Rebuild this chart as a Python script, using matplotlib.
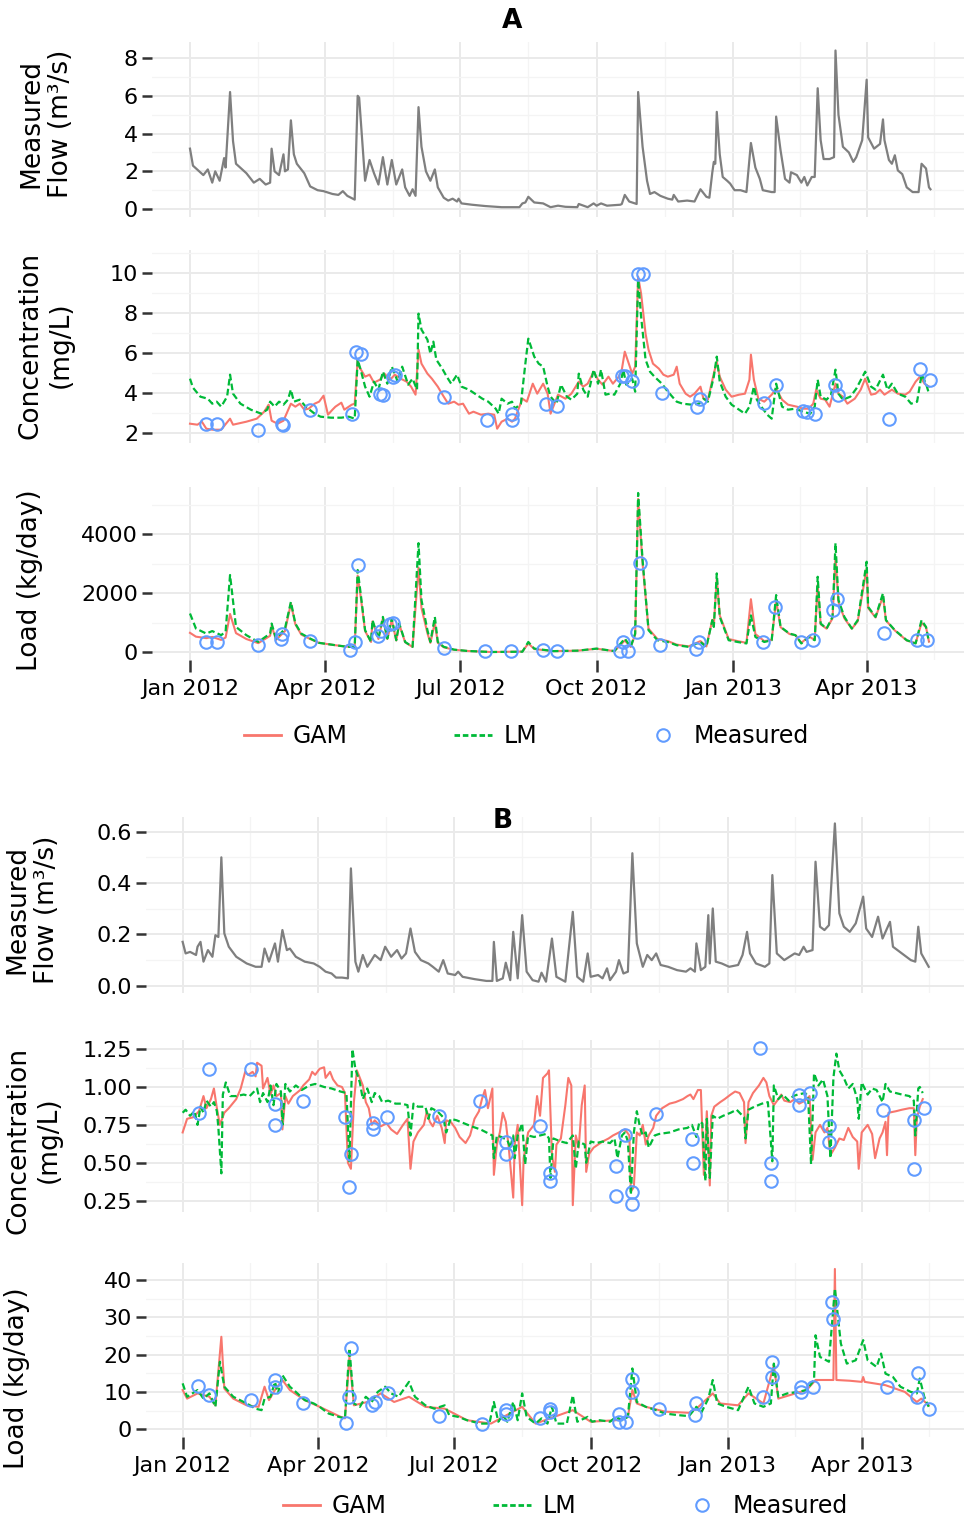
import numpy as np
import matplotlib
matplotlib.use('Agg')
import matplotlib.pyplot as plt
import matplotlib.dates as mdates
from matplotlib.lines import Line2D

# day offsets are counted from 1 Jan 2012
START = np.datetime64('2012-01-01')

# ---------------- site A ----------------
FLOW_A_DAYS = [0, 2, 9, 12, 15, 17, 20, 23, 24, 27, 29, 31, 38, 43, 47, 51, 54, 55, 57, 60,
               63, 64, 66, 68, 70, 72, 77, 81, 86, 90, 96, 100, 103, 106, 111, 113, 114, 118,
               121, 124, 127, 130, 133, 136, 139, 143, 145, 148, 150, 152, 154, 156, 159, 162,
               165, 167, 171, 174, 177, 180, 181, 183, 190, 199, 210, 222, 224, 226, 228, 232,
               238, 243, 248, 253, 261, 262, 268, 272, 274, 277, 281, 290, 291, 293, 296, 301,
               302, 305, 308, 310, 313, 317, 322, 325, 326, 329, 335, 340, 344, 348, 350, 352,
               353, 354, 355, 357, 359, 362, 364, 367, 371, 375, 378, 381, 384, 386, 392, 394,
               395, 398, 401, 404, 405, 409, 412, 414, 416, 419, 421, 423, 425, 427, 431, 434,
               435, 437, 440, 444, 447, 449, 453, 456, 457, 461, 465, 467, 468, 471, 473, 475,
               477, 480, 483, 487, 491, 493, 496, 498, 499]
FLOW_A = [3.2, 2.3, 1.8, 2.1, 1.4, 2.0, 1.5, 2.7, 2.2, 6.2, 3.6, 2.4, 1.9, 1.4, 1.6, 1.3, 1.4, 3.2, 2.0, 1.8,
          2.9, 2.0, 2.1, 4.7, 2.9, 2.4, 1.9, 1.2, 1.0, 0.95, 0.8, 0.75, 0.95, 0.7, 0.5, 6.0, 5.9, 1.5,
          2.6, 1.9, 1.3, 2.75, 1.3, 2.6, 1.3, 2.1, 1.15, 0.7, 1.05, 0.7, 5.4, 3.3, 2.0, 1.5,
          2.1, 1.15, 0.6, 0.45, 0.55, 0.4, 0.55, 0.3, 0.23, 0.16, 0.1, 0.1, 0.3, 0.35, 0.65, 0.35,
          0.3, 0.1, 0.18, 0.12, 0.1, 0.27, 0.1, 0.3, 0.18, 0.3, 0.18, 0.23, 0.27, 0.75, 0.4, 0.27,
          6.2, 3.3, 1.5, 0.8, 0.9, 0.7, 0.55, 0.5, 0.75, 0.4, 0.45, 0.4, 1.05, 0.65, 0.6, 1.95,
          2.5, 2.4, 5.15, 2.9, 1.7, 1.5, 1.35, 1.0, 1.0, 0.9, 3.5, 2.2, 1.6, 1.0, 0.9, 0.9,
          4.9, 3.1, 1.6, 1.4, 1.95, 1.8, 1.4, 1.7, 1.25, 1.7, 1.7, 6.4, 3.65, 2.65, 2.65, 2.75,
          8.4, 5.0, 3.3, 3.0, 2.5, 2.75, 3.65, 6.85, 3.8, 3.2, 3.45, 4.75, 3.65, 2.6, 2.4, 2.85,
          2.05, 1.85, 1.15, 0.9, 0.9, 2.4, 2.15, 1.15, 1.05]

CONC_A_GAM_DAYS = [0, 5, 8, 11, 15, 21, 27, 29, 38, 45, 50, 53, 55, 59, 63, 68, 71, 74, 77, 80,
                   84, 87, 90, 93, 96, 98, 102, 104, 109, 111, 113, 114, 118, 121, 124, 128, 131,
                   135, 138, 142, 146, 149, 152, 154, 156, 160, 163, 167, 171, 174, 178, 181, 184,
                   188, 191, 196, 201, 205, 207, 210, 214, 217, 219, 224, 227, 231, 234, 238, 241,
                   243, 248, 253, 257, 262, 265, 268, 272, 275, 278, 282, 285, 289, 291, 293, 296,
                   298, 300, 302, 304, 307, 309, 312, 316, 319, 322, 326, 328, 330, 334, 337, 340,
                   344, 346, 349, 353, 355, 357, 361, 365, 370, 374, 377, 378, 380, 383, 387, 392,
                   395, 399, 403, 409, 413, 417, 420, 422, 425, 428, 431, 435, 437, 440, 443, 448,
                   452, 455, 459, 462, 465, 468, 473, 477, 482, 485, 489, 492, 495, 498]
CONC_A_GAM = [2.45, 2.4, 2.55, 2.2, 2.15, 2.15, 2.7, 2.4, 2.55, 2.7, 3.05, 3.4, 2.6, 2.45, 2.6, 3.45, 3.3, 3.45, 3.15, 3.2,
              3.45, 3.55, 3.85, 2.9, 3.15, 3.3, 3.5, 3.15, 3.4, 3.45, 5.65, 5.3, 4.8, 4.9, 4.5, 4.65, 4.95,
              4.65, 4.9, 4.7, 4.55, 4.3, 3.9, 6.15, 5.45, 4.95, 4.7, 4.3, 3.8, 3.45, 3.55, 3.4, 3.45,
              2.95, 3.05, 2.9, 2.95, 2.9, 2.2, 2.55, 2.7, 2.55, 2.7, 3.7, 3.55, 4.45, 3.95, 4.45, 3.95,
              2.95, 3.9, 3.7, 3.95, 4.55, 4.3, 4.45, 5.05, 4.65, 4.4, 4.8, 4.45, 4.8, 5.15, 6.05, 5.4,
              4.95, 5.3, 9.8, 8.95, 6.95, 6.15, 5.45, 5.2, 4.9, 4.8, 4.9, 5.3, 4.45, 3.95, 3.8, 3.95,
              4.3, 3.7, 3.65, 4.95, 5.55, 4.8, 4.15, 3.8, 3.9, 3.95, 4.65, 5.9, 4.65, 3.7, 3.55, 3.9,
              4.2, 3.65, 3.4, 3.3, 3.2, 3.2, 3.45, 4.15, 3.7, 3.65, 3.3, 4.45, 3.95, 3.8, 3.45, 3.7,
              4.15, 4.7, 3.9, 3.95, 4.15, 3.9, 4.15, 3.95, 3.9, 4.05, 4.55, 4.8, 4.45, 4.3]

CONC_A_LM_DAYS = [0, 2, 7, 12, 15, 18, 21, 25, 27, 29, 34, 41, 48, 52, 54, 57, 60, 63, 66, 68,
                  70, 74, 78, 84, 88, 95, 102, 107, 111, 113, 115, 118, 121, 124, 127, 130, 133,
                  136, 140, 143, 147, 150, 153, 154, 156, 160, 162, 164, 166, 170, 173, 176, 180,
                  183, 188, 192, 197, 201, 206, 208, 210, 214, 217, 219, 223, 226, 228, 232, 235,
                  238, 241, 243, 247, 250, 254, 257, 261, 262, 265, 268, 272, 275, 277, 280, 283,
                  286, 290, 292, 294, 298, 300, 302, 304, 307, 310, 313, 318, 321, 325, 328, 332,
                  338, 343, 346, 349, 353, 355, 357, 361, 365, 370, 374, 377, 380, 382, 385, 389,
                  392, 395, 399, 403, 408, 413, 418, 421, 423, 425, 429, 432, 435, 437, 440, 445,
                  449, 455, 459, 462, 467, 470, 473, 477, 482, 486, 490, 493, 496, 498]
CONC_A_LM = [4.7, 4.25, 3.8, 3.7, 3.45, 3.55, 3.3, 3.8, 4.9, 3.95, 3.45, 3.15, 2.95, 3.15, 3.55, 3.3, 3.55, 3.4, 3.65, 4.15,
             3.55, 3.65, 3.3, 2.95, 2.8, 2.75, 2.75, 2.8, 2.7, 5.65, 5.15, 4.3, 3.8, 4.55, 4.15, 5.05, 4.45,
             5.3, 4.55, 5.3, 4.4, 4.7, 4.15, 7.95, 7.15, 6.65, 5.95, 6.55, 5.65, 5.2, 4.8, 4.45, 4.9,
             4.3, 4.15, 3.95, 3.7, 3.55, 3.2, 2.95, 3.7, 3.45, 3.55, 3.2, 3.45, 5.45, 6.7, 5.8, 5.45,
             5.3, 4.3, 3.8, 3.45, 4.4, 3.8, 3.65, 3.95, 4.95, 4.15, 3.8, 5.15, 4.45, 5.15, 3.9, 3.95,
             3.9, 4.45, 5.15, 4.4, 4.7, 4.05, 9.65, 7.8, 5.65, 5.05, 4.8, 4.45, 4.15, 3.8, 3.55, 3.45,
             3.4, 3.45, 3.7, 3.55, 4.8, 5.8, 4.55, 3.8, 3.4, 3.15, 2.95, 3.3, 4.3, 3.65, 3.3, 2.9,
             2.7, 4.45, 3.3, 3.15, 3.2, 3.05, 2.95, 3.3, 4.65, 3.8, 3.65, 3.9, 5.15, 3.95, 3.65, 3.8,
             4.2, 5.05, 4.3, 4.15, 4.9, 4.15, 4.45, 3.95, 3.8, 3.45, 3.55, 4.9, 4.45, 3.95]

CONC_A_MEAS_DAYS = [11, 18, 46, 62, 63, 81, 109, 112, 115, 128, 130, 137, 138, 171, 200, 217, 217,
                    240, 247, 291, 293, 298, 302, 305, 318, 342, 344, 387, 395, 413, 416, 421, 435,
                    437, 471, 492, 499]
CONC_A_MEAS = [2.45, 2.45, 2.15, 2.45, 2.4, 3.15, 2.95, 6.05, 5.95, 3.95, 3.9, 4.8, 4.9, 3.8, 2.65, 2.95, 2.65,
               3.45, 3.35, 4.85, 4.85, 4.6, 9.95, 9.95, 4.0, 3.3, 3.7, 3.5, 4.4, 3.1, 3.05, 2.95, 4.4,
               3.9, 2.7, 5.2, 4.65]

LOAD_A_DAYS = [0, 4, 11, 15, 21, 24, 27, 31, 38, 46, 54, 55, 58, 62, 64, 68, 71, 75, 81, 87,
               98, 106, 111, 113, 115, 118, 122, 123, 127, 130, 133, 136, 139, 141, 145, 150, 154,
               156, 160, 162, 165, 167, 171, 178, 187, 203, 224, 228, 232, 245, 261, 274, 286,
               293, 297, 300, 302, 305, 309, 315, 322, 328, 336, 344, 348, 352, 353, 355, 357,
               363, 369, 375, 378, 381, 387, 392, 395, 398, 404, 408, 412, 417, 421, 423, 425,
               429, 433, 435, 437, 441, 446, 450, 456, 457, 462, 467, 469, 475, 483, 489, 493,
               496, 498]
LOAD_A_LM = [1315, 805, 635, 720, 580, 700, 2620, 860, 580, 350, 635, 975, 465, 690, 805, 1710, 975, 635, 465, 320,
             240, 185, 185, 2790, 2000, 750, 350, 1090, 465, 1200, 465, 1145, 410, 975, 350, 185, 3700,
             1770, 750, 350, 1200, 350, 185, 90, 45, 10, 20, 350, 125, 40, 55, 125, 40,
             465, 185, 635, 5400, 3130, 750, 410, 350, 240, 185, 350, 185, 1090, 860, 2675, 1200,
             410, 350, 300, 1250, 520, 350, 410, 1940, 860, 635, 580, 300, 520, 410, 2560, 975,
             805, 1200, 3700, 1770, 1200, 805, 1090, 3070, 1540, 1200, 2000, 1090, 750, 410, 300, 1090,
             860, 350]
LOAD_A_GAM = [660, 530, 480, 520, 420, 500, 1300, 650, 450, 310, 560, 900, 420, 620, 720, 1650, 950, 600, 450, 320,
              240, 190, 190, 2600, 1900, 720, 350, 1050, 450, 1150, 450, 1100, 400, 950, 340, 180, 2870,
              1500, 650, 320, 1000, 320, 170, 85, 45, 10, 25, 300, 110, 40, 55, 120, 40,
              400, 180, 600, 5200, 3000, 800, 450, 380, 260, 200, 380, 200, 1100, 900, 2500, 1250,
              450, 380, 320, 1800, 620, 380, 420, 1750, 850, 620, 580, 320, 540, 420, 2290, 950,
              800, 1150, 3230, 1700, 1150, 800, 1050, 2850, 1500, 1180, 1900, 1080, 740, 400, 310, 1000,
              850, 360]

LOAD_A_MEAS_DAYS = [11, 18, 46, 61, 62, 81, 108, 111, 113, 127, 129, 135, 137, 171, 199, 216, 238,
                    247, 290, 292, 295, 301, 303, 317, 341, 343, 386, 394, 412, 420, 433, 436, 468,
                    490, 497]
LOAD_A_MEAS = [350, 340, 240, 465, 635, 375, 90, 350, 2960, 555, 730, 950, 1000, 160, 40, 40, 70,
               50, 60, 350, 60, 690, 3010, 240, 120, 350, 350, 1540, 350, 410, 1430, 1790, 660,
               410, 410]

# ---------------- site B ----------------
FLOW_B_DAYS = [0, 2, 5, 9, 10, 12, 14, 17, 20, 22, 24, 26, 28, 31, 36, 43, 49, 53, 55, 58,
               62, 64, 67, 70, 72, 76, 82, 88, 92, 96, 100, 103, 107, 111, 113, 116, 118, 121,
               124, 129, 133, 136, 140, 144, 147, 150, 153, 156, 160, 165, 168, 172, 175, 178,
               183, 185, 188, 196, 204, 208, 209, 211, 215, 217, 220, 222, 225, 228, 231, 235,
               239, 241, 244, 248, 251, 257, 262, 265, 269, 272, 274, 279, 282, 285, 287, 291,
               293, 296, 299, 302, 305, 309, 312, 315, 318, 321, 326, 332, 338, 341, 344, 345,
               348, 351, 353, 354, 356, 358, 362, 367, 373, 376, 379, 381, 385, 391, 394, 396,
               399, 404, 411, 414, 417, 419, 423, 425, 428, 431, 434, 438, 441, 444, 448, 452,
               457, 459, 463, 467, 470, 475, 477, 483, 489, 492, 494, 496, 501]
FLOW_B = [0.171, 0.126, 0.132, 0.12, 0.152, 0.171, 0.094, 0.139, 0.113, 0.197, 0.19, 0.50, 0.204, 0.152, 0.113, 0.087, 0.074, 0.074, 0.145, 0.094,
          0.165, 0.094, 0.217, 0.139, 0.145, 0.113, 0.094, 0.087, 0.074, 0.055, 0.048, 0.032, 0.032, 0.029, 0.457, 0.094, 0.055, 0.12,
          0.074, 0.12, 0.10, 0.152, 0.113, 0.139, 0.106, 0.126, 0.223, 0.132, 0.10, 0.087, 0.074, 0.055, 0.10, 0.048,
          0.042, 0.055, 0.035, 0.026, 0.019, 0.019, 0.171, 0.019, 0.029, 0.09, 0.022, 0.21, 0.029, 0.275, 0.055, 0.022,
          0.016, 0.051, 0.016, 0.184, 0.035, 0.016, 0.288, 0.035, 0.016, 0.126, 0.035, 0.042, 0.029, 0.068, 0.022, 0.055,
          0.10, 0.048, 0.055, 0.516, 0.165, 0.074, 0.12, 0.10, 0.126, 0.081, 0.074, 0.061, 0.055, 0.068, 0.055, 0.165,
          0.061, 0.074, 0.275, 0.087, 0.301, 0.094, 0.087, 0.074, 0.081, 0.12, 0.21, 0.126, 0.087, 0.074, 0.087, 0.431,
          0.126, 0.10, 0.126, 0.12, 0.152, 0.132, 0.139, 0.483, 0.23, 0.217, 0.236, 0.632, 0.282, 0.23, 0.21, 0.243,
          0.347, 0.223, 0.19, 0.269, 0.184, 0.249, 0.152, 0.126, 0.10, 0.094, 0.23, 0.126, 0.074]

CONC_B_GAM_DAYS = [0, 3, 7, 11, 14, 16, 19, 21, 23, 25, 28, 31, 36, 39, 42, 44, 47, 49, 50, 53,
                   54, 57, 59, 61, 63, 66, 67, 69, 71, 74, 79, 81, 85, 87, 89, 92, 95, 96, 99, 101,
                   104, 107, 109, 111, 113, 115, 117, 119, 121, 123, 125, 127, 129, 133, 137, 140,
                   144, 148, 151, 153, 155, 158, 162, 164, 166, 168, 171, 174, 176, 177, 180, 183,
                   186, 190, 193, 196, 199, 201, 203, 205, 208, 209, 211, 213, 215, 217, 219, 222,
                   223, 225, 228, 229, 232, 236, 238, 240, 242, 245, 246, 248, 250, 251, 254, 257,
                   259, 261, 262, 264, 266, 268, 270, 271, 273, 276, 279, 282, 286, 289, 293, 297,
                   300, 301, 303, 305, 307, 309, 311, 313, 316, 318, 322, 327, 331, 336, 339, 341,
                   343, 345, 346, 348, 350, 352, 354, 355, 357, 361, 364, 368, 371, 374, 377, 378,
                   380, 383, 387, 390, 392, 394, 397, 400, 402, 404, 408, 411, 414, 418, 421, 423,
                   425, 428, 431, 433, 435, 438, 441, 444, 447, 450, 453, 454, 456, 460, 463, 465,
                   468, 470, 472, 473, 474, 479, 483, 488, 491, 492, 493, 495, 497]
CONC_B_GAM = [0.70, 0.79, 0.80, 0.84, 0.94, 0.86, 0.92, 0.99, 0.86, 0.75, 0.83, 0.86, 0.92, 0.99, 1.10, 1.08, 1.10, 1.07, 1.16, 1.14,
              0.99, 1.06, 0.95, 1.01, 0.94, 0.96, 0.72, 0.94, 0.89, 0.94, 0.98, 1.01, 1.05, 1.10, 1.08, 1.12, 1.13, 1.06, 1.10, 1.05,
              1.01, 1.00, 0.96, 0.50, 0.46, 0.90, 1.11, 1.06, 1.01, 0.90, 0.86, 0.75, 0.78, 0.74, 0.76, 0.72,
              0.69, 0.75, 0.79, 0.46, 0.64, 0.70, 0.75, 0.84, 0.77, 0.74, 0.81, 0.73, 0.63, 0.78, 0.77, 0.73,
              0.67, 0.63, 0.68, 0.79, 0.84, 0.92, 0.98, 0.86, 0.99, 0.42, 0.62, 0.70, 0.83, 0.77, 0.60, 0.27,
              0.62, 0.75, 0.22, 0.53, 0.70, 0.75, 0.94, 0.81, 1.06, 1.09, 1.11, 0.55, 0.44, 0.62, 0.66, 0.88,
              1.06, 1.01, 0.22, 0.68, 0.60, 0.88, 1.01, 0.44, 0.56, 0.60, 0.62, 0.64, 0.66, 0.68, 0.70, 0.72,
              0.68, 0.31, 0.34, 0.70, 0.68, 0.75, 0.62, 0.68, 0.73, 0.81, 0.86, 0.89, 0.90, 0.92, 0.94, 0.95,
              0.92, 0.96, 0.98, 0.98, 0.42, 0.84, 0.35, 0.81, 0.87, 0.90, 0.92, 0.95, 0.97, 0.96, 0.90, 0.63,
              0.90, 0.96, 1.01, 1.06, 1.03, 0.94, 0.88, 0.92, 0.95, 0.91, 0.90, 0.92, 0.89, 0.91, 0.94, 0.52,
              0.70, 0.75, 0.70, 0.73, 0.55, 0.60, 0.66, 0.65, 0.73, 0.67, 0.64, 0.46, 0.70, 0.75, 0.69, 0.53,
              0.66, 0.70, 0.77, 0.55, 0.83, 0.84, 0.85, 0.86, 0.86, 0.55, 0.79, 0.87, 0.92]

CONC_B_LM_DAYS = [0, 2, 5, 8, 10, 12, 14, 16, 19, 21, 23, 24, 26, 27, 29, 32, 36, 41, 45, 50,
                  52, 54, 57, 59, 61, 63, 66, 67, 69, 72, 76, 80, 85, 89, 95, 100, 106, 110, 112,
                  114, 116, 119, 121, 124, 127, 129, 132, 134, 138, 143, 147, 151, 153, 155, 158,
                  163, 165, 167, 171, 175, 177, 180, 184, 189, 194, 200, 204, 208, 209, 211, 214,
                  218, 220, 222, 223, 225, 228, 230, 232, 236, 240, 244, 246, 247, 249, 254, 258,
                  262, 264, 266, 270, 271, 274, 278, 282, 287, 290, 292, 295, 297, 299, 301, 303,
                  305, 307, 309, 311, 313, 317, 320, 327, 333, 339, 342, 345, 347, 349, 351, 352,
                  354, 356, 359, 363, 368, 372, 377, 378, 380, 384, 389, 393, 396, 397, 400, 403,
                  407, 410, 413, 418, 420, 422, 424, 427, 430, 433, 435, 437, 439, 441, 444, 447,
                  450, 453, 454, 456, 460, 463, 466, 470, 472, 475, 479, 483, 488, 491, 492, 494,
                  495, 497]
CONC_B_LM = [0.83, 0.85, 0.81, 0.84, 0.75, 0.87, 0.83, 0.91, 0.87, 0.90, 0.84, 0.73, 0.43, 0.95, 1.03, 0.94, 0.94, 0.95, 0.94, 0.99,
             0.90, 0.96, 0.90, 1.01, 0.88, 1.02, 0.97, 0.75, 1.02, 0.97, 1.01, 0.98, 1.01, 1.02, 1.00, 0.99, 0.97, 0.96, 0.51,
             1.25, 1.12, 1.03, 0.92, 0.99, 0.90, 0.96, 0.94, 0.90, 0.91, 0.89, 0.89, 0.88, 0.68, 0.89, 0.87,
             0.87, 0.79, 0.86, 0.84, 0.80, 0.70, 0.79, 0.78, 0.76, 0.74, 0.72, 0.70, 0.68, 0.53, 0.68, 0.67,
             0.65, 0.60, 0.68, 0.53, 0.68, 0.76, 0.49, 0.68, 0.67, 0.68, 0.69, 0.66, 0.40, 0.66, 0.64, 0.63,
             0.68, 0.46, 0.64, 0.62, 0.50, 0.64, 0.63, 0.64, 0.63, 0.66, 0.53, 0.68, 0.70, 0.64, 0.29, 0.70,
             0.84, 0.74, 0.68, 0.70, 0.60, 0.68, 0.69, 0.70, 0.72, 0.73, 0.75, 0.67, 0.77, 0.76, 0.38, 0.79,
             0.40, 0.81, 0.79, 0.81, 0.83, 0.85, 0.80, 0.66, 0.85, 0.87, 0.89, 0.90, 0.51, 1.01, 0.92, 0.95,
             0.91, 0.94, 0.95, 0.96, 0.94, 0.49, 1.09, 1.01, 1.05, 0.94, 0.53, 1.06, 1.22, 1.11, 1.06, 0.99,
             1.02, 0.92, 0.79, 1.03, 0.95, 0.99, 0.98, 0.90, 1.02, 0.97, 0.96, 0.95, 0.94, 0.91, 0.68, 0.99,
             1.00, 0.96]

CONC_B_MEAS_DAYS = [11, 18, 46, 62, 62, 81, 109, 112, 113, 128, 128, 137, 172, 200, 217, 217, 240,
                    247, 247, 291, 291, 297, 302, 302, 318, 342, 343, 388, 395, 395, 414, 414, 421,
                    434, 434, 470, 491, 491, 498]
CONC_B_MEAS = [0.83, 1.12, 1.12, 0.89, 0.75, 0.91, 0.80, 0.34, 0.56, 0.76, 0.72, 0.80, 0.81, 0.91, 0.64, 0.56, 0.74,
               0.43, 0.38, 0.48, 0.28, 0.68, 0.31, 0.23, 0.82, 0.66, 0.50, 1.26, 0.50, 0.38, 0.95, 0.88, 0.96,
               0.74, 0.64, 0.85, 0.78, 0.46, 0.86]

LOAD_B_LM_DAYS = [0, 3, 10, 14, 18, 22, 25, 28, 34, 43, 49, 53, 55, 59, 62, 64, 67, 72, 76, 82,
                  88, 92, 98, 105, 109, 112, 115, 119, 123, 127, 131, 136, 140, 145, 152, 156, 163,
                  169, 176, 179, 185, 191, 200, 206, 209, 212, 215, 218, 222, 225, 228, 231, 237,
                  241, 245, 248, 251, 258, 262, 265, 272, 275, 280, 287, 291, 295, 299, 302, 305,
                  311, 318, 324, 332, 340, 345, 348, 353, 356, 359, 365, 373, 380, 384, 390, 395,
                  397, 400, 406, 413, 419, 424, 425, 428, 434, 438, 442, 446, 452, 457, 460, 466,
                  469, 472, 477, 482, 489, 493, 495, 498, 501]
LOAD_B_LM = [12.3, 8.7, 10.5, 8.2, 9.6, 6.0, 18.1, 11.4, 8.7, 6.9, 5.5, 5.1, 8.2, 8.7, 12.7, 9.6, 14.5, 11.4, 10.0, 7.8,
             6.9, 6.0, 4.2, 3.3, 2.9, 21.7, 6.9, 6.0, 8.7, 7.3, 10.0, 11.4, 9.6, 8.7, 12.7, 8.7, 6.4,
             5.5, 6.4, 3.8, 3.3, 2.4, 1.5, 1.5, 7.3, 2.0, 3.8, 2.0, 7.3, 2.4, 9.6, 3.3, 1.5,
             2.9, 1.5, 6.0, 1.5, 1.5, 9.1, 2.0, 3.3, 2.0, 2.4, 2.0, 3.3, 2.4, 3.3, 16.3, 7.3,
             6.0, 5.1, 4.2, 3.8, 3.5, 6.0, 4.2, 8.2, 13.2, 6.9, 6.0, 5.1, 11.4, 6.9, 6.0, 6.9,
             17.6, 8.7, 9.6, 10.0, 10.5, 13.2, 25.2, 19.4, 18.1, 37.8, 23.0, 17.6, 18.5, 23.9, 18.5, 16.7,
             20.3, 14.9, 14.0, 11.4, 10.0, 9.6, 13.6, 8.7, 6.0]

LOAD_B_GAM_DAYS = [0, 3, 10, 18, 22, 26, 28, 34, 43, 51, 55, 58, 62, 67, 72, 82, 92, 105, 109, 112,
                   115, 124, 133, 142, 152, 163, 176, 191, 207, 228, 237, 262, 274, 291, 299, 302,
                   305, 311, 324, 340, 345, 356, 361, 373, 380, 390, 397, 400, 419, 424, 425, 434,
                   437, 438, 439, 448, 456, 457, 458, 472, 485, 493, 496, 501]
LOAD_B_GAM = [10.5, 8.2, 9.6, 8.7, 6.4, 24.8, 10.9, 8.2, 6.4, 6.0, 11.4, 7.8, 10.5, 13.2, 10.5, 7.8, 6.0, 3.5, 2.9, 19.4,
              6.4, 7.3, 9.6, 7.3, 8.7, 6.0, 5.5, 2.4, 1.5, 6.0, 1.5, 5.1, 2.0, 2.4, 3.3, 10.5,
              6.9, 6.0, 4.7, 4.4, 5.5, 9.6, 6.9, 6.4, 9.6, 6.9, 17.2, 8.2, 10.5, 12.7, 13.2, 13.2,
              13.2, 43.0, 13.2, 13.0, 12.7, 14.0, 12.7, 11.8, 10.0, 7.3, 8.2, 6.4]

LOAD_B_MEAS_DAYS = [10, 18, 46, 62, 62, 81, 110, 112, 113, 127, 129, 138, 172, 201, 217, 217, 240,
                    247, 247, 293, 293, 298, 302, 302, 320, 344, 345, 390, 396, 396, 415, 415, 423,
                    436, 437, 473, 493, 494, 501]
LOAD_B_MEAS = [11.5, 9.1, 7.8, 13.2, 11.4, 6.9, 1.7, 8.7, 21.7, 6.4, 7.3, 9.6, 3.6, 1.3, 4.2, 5.1, 2.9,
               5.5, 4.7, 4.2, 2.0, 2.0, 13.6, 10.0, 5.5, 3.8, 6.9, 8.7, 18.1, 14.0, 11.4, 10.0, 11.4,
               34.2, 29.7, 11.4, 8.7, 15.1, 5.5]

# axis ticks
FLOW_A_TICKS = [0, 2, 4, 6, 8]
CONC_A_TICKS = [2, 4, 6, 8, 10]
LOAD_A_TICKS = [0, 2000, 4000]
FLOW_B_TICKS = [0.0, 0.2, 0.4, 0.6]
FLOW_B_LABELS = ['0.0', '0.2', '0.4', '0.6']
CONC_B_TICKS = [0.25, 0.50, 0.75, 1.00, 1.25]
CONC_B_LABELS = ['0.25', '0.50', '0.75', '1.00', '1.25']
LOAD_B_TICKS = [0, 10, 20, 30, 40]
QUARTERS = ['2011-10-01', '2012-01-01', '2012-04-01', '2012-07-01', '2012-10-01',
            '2013-01-01', '2013-04-01', '2013-07-01']

GAM_COLOR = '#F8766D'
LM_COLOR = '#00BA38'
MEAS_COLOR = '#619CFF'
FLOW_COLOR = '#7F7F7F'
LM_DASH = (0, (3, 1.5))

W, H = 964, 1521
plt.rcParams['font.family'] = ['DejaVu Sans']


def to_dates(days):
    return START + np.array(days, dtype='timedelta64[D]')


def add_panel(fig, left, top, right, bottom):
    return fig.add_axes([left / W, 1 - bottom / H, (right - left) / W, (bottom - top) / H])


def style_axis(ax, xlim, ylim, yticks, ylabels=None, show_x=False):
    start = mdates.date2num(START)
    ax.set_xlim(start + xlim[0], start + xlim[1])
    ax.set_ylim(*ylim)
    for s in ax.spines.values():
        s.set_visible(False)

    q = mdates.date2num(np.array(QUARTERS, dtype='datetime64[D]'))
    ax.set_xticks(q)
    ax.set_xticks((q[:-1] + q[1:]) / 2, minor=True)
    ax.xaxis.set_major_formatter(mdates.DateFormatter('%b %Y'))

    step = yticks[1] - yticks[0]
    ax.set_yticks(yticks)
    if ylabels is not None:
        ax.set_yticklabels(ylabels)
    ax.set_yticks([yticks[0] - step / 2] + [t + step / 2 for t in yticks], minor=True)
    ax.set_ylim(*ylim)
    ax.set_xlim(start + xlim[0], start + xlim[1])

    ax.grid(which='major', color='#EAEAEA', lw=1.4)
    ax.grid(which='minor', color='#F4F4F4', lw=0.9)
    ax.set_axisbelow(True)
    ax.tick_params(which='minor', length=0)
    ax.tick_params(axis='y', which='major', length=7, width=1.8, color='#333333',
                   labelsize=16, pad=3)
    if show_x:
        ax.tick_params(axis='x', which='major', length=8.5, width=1.8, color='#333333',
                       labelsize=16, pad=5)
    else:
        ax.tick_params(axis='x', which='major', length=0, labelbottom=False)


def draw_site(fig, x_left, xlim, tops, flow, conc, load, yt):
    ax1 = add_panel(fig, x_left, tops[0][0], W, tops[0][1])
    ax1.plot(to_dates(flow[0]), flow[1], color=FLOW_COLOR, lw=1.6)
    style_axis(ax1, xlim, yt[0][0], yt[0][1], yt[0][2])

    ax2 = add_panel(fig, x_left, tops[1][0], W, tops[1][1])
    ax2.plot(to_dates(conc[0]), conc[1], color=GAM_COLOR, lw=1.5)
    ax2.plot(to_dates(conc[2]), conc[3], color=LM_COLOR, lw=1.6, ls=LM_DASH)
    ax2.plot(to_dates(conc[4]), conc[5], ls='none', marker='o', mfc='none',
             mec=MEAS_COLOR, ms=9, mew=1.5)
    style_axis(ax2, xlim, yt[1][0], yt[1][1], yt[1][2])

    ax3 = add_panel(fig, x_left, tops[2][0], W, tops[2][1])
    ax3.plot(to_dates(load[0]), load[1], color=GAM_COLOR, lw=1.5)
    ax3.plot(to_dates(load[2]), load[3], color=LM_COLOR, lw=1.6, ls=LM_DASH)
    ax3.plot(to_dates(load[4]), load[5], ls='none', marker='o', mfc='none',
             mec=MEAS_COLOR, ms=9, mew=1.5)
    style_axis(ax3, xlim, yt[2][0], yt[2][1], yt[2][2], show_x=True)


def add_legend(fig, cx, cy):
    handles = [Line2D([], [], color=GAM_COLOR, lw=2),
               Line2D([], [], color=LM_COLOR, lw=2, ls=(0, (2, 1))),
               Line2D([], [], ls='none', marker='o', mfc='none', mec=MEAS_COLOR, ms=9, mew=1.5)]
    fig.legend(handles, ['GAM', 'LM', 'Measured'], loc='center',
               bbox_to_anchor=(cx / W, 1 - cy / H), ncol=3, frameon=False, fontsize=17,
               handlelength=1.6, handletextpad=0.5, columnspacing=4.5)


def ylabel(fig, x, y, text):
    fig.text(x / W, 1 - y / H, text, rotation=90, ha='center', va='center',
             fontsize=19, linespacing=1.2, multialignment='center')


fig = plt.figure(figsize=(W / 100, H / 100), dpi=100)

# site A
draw_site(fig, 152, (-25.6, 521.6), [(42, 217), (250, 443), (487, 660)],
          (FLOW_A_DAYS, FLOW_A),
          (CONC_A_GAM_DAYS, CONC_A_GAM, CONC_A_LM_DAYS, CONC_A_LM, CONC_A_MEAS_DAYS, CONC_A_MEAS),
          (LOAD_A_DAYS, LOAD_A_GAM, LOAD_A_DAYS, LOAD_A_LM, LOAD_A_MEAS_DAYS, LOAD_A_MEAS),
          [((-0.42, 8.85), FLOW_A_TICKS, None),
           ((1.485, 11.13), CONC_A_TICKS, None),
           ((-261, 5603), LOAD_A_TICKS, None)])
fig.text(512 / W, 1 - 21 / H, 'A', ha='center', va='center', fontsize=19, fontweight='bold')
ylabel(fig, 46, 124, 'Measured\nFlow (m\u00b3/s)')
ylabel(fig, 46, 345, 'Concentration\n(mg/L)')
ylabel(fig, 30, 580, 'Load (kg/day)')
add_legend(fig, 526, 736)

# site B
draw_site(fig, 146, (-24.6, 524.7), [(817, 993), (1040, 1212), (1263, 1437)],
          (FLOW_B_DAYS, FLOW_B),
          (CONC_B_GAM_DAYS, CONC_B_GAM, CONC_B_LM_DAYS, CONC_B_LM, CONC_B_MEAS_DAYS, CONC_B_MEAS),
          (LOAD_B_GAM_DAYS, LOAD_B_GAM, LOAD_B_LM_DAYS, LOAD_B_LM, LOAD_B_MEAS_DAYS, LOAD_B_MEAS),
          [((-0.028, 0.657), FLOW_B_TICKS, FLOW_B_LABELS),
           ((0.175, 1.31), CONC_B_TICKS, CONC_B_LABELS),
           ((-2.1, 44.6), LOAD_B_TICKS, None)])
fig.text(503 / W, 1 - 821 / H, 'B', ha='center', va='center', fontsize=19, fontweight='bold')
ylabel(fig, 32, 910, 'Measured\nFlow (m\u00b3/s)')
ylabel(fig, 34, 1140, 'Concentration\n(mg/L)')
ylabel(fig, 17, 1378, 'Load (kg/day)')
add_legend(fig, 565, 1506)

fig.savefig('out.png', dpi=100)
